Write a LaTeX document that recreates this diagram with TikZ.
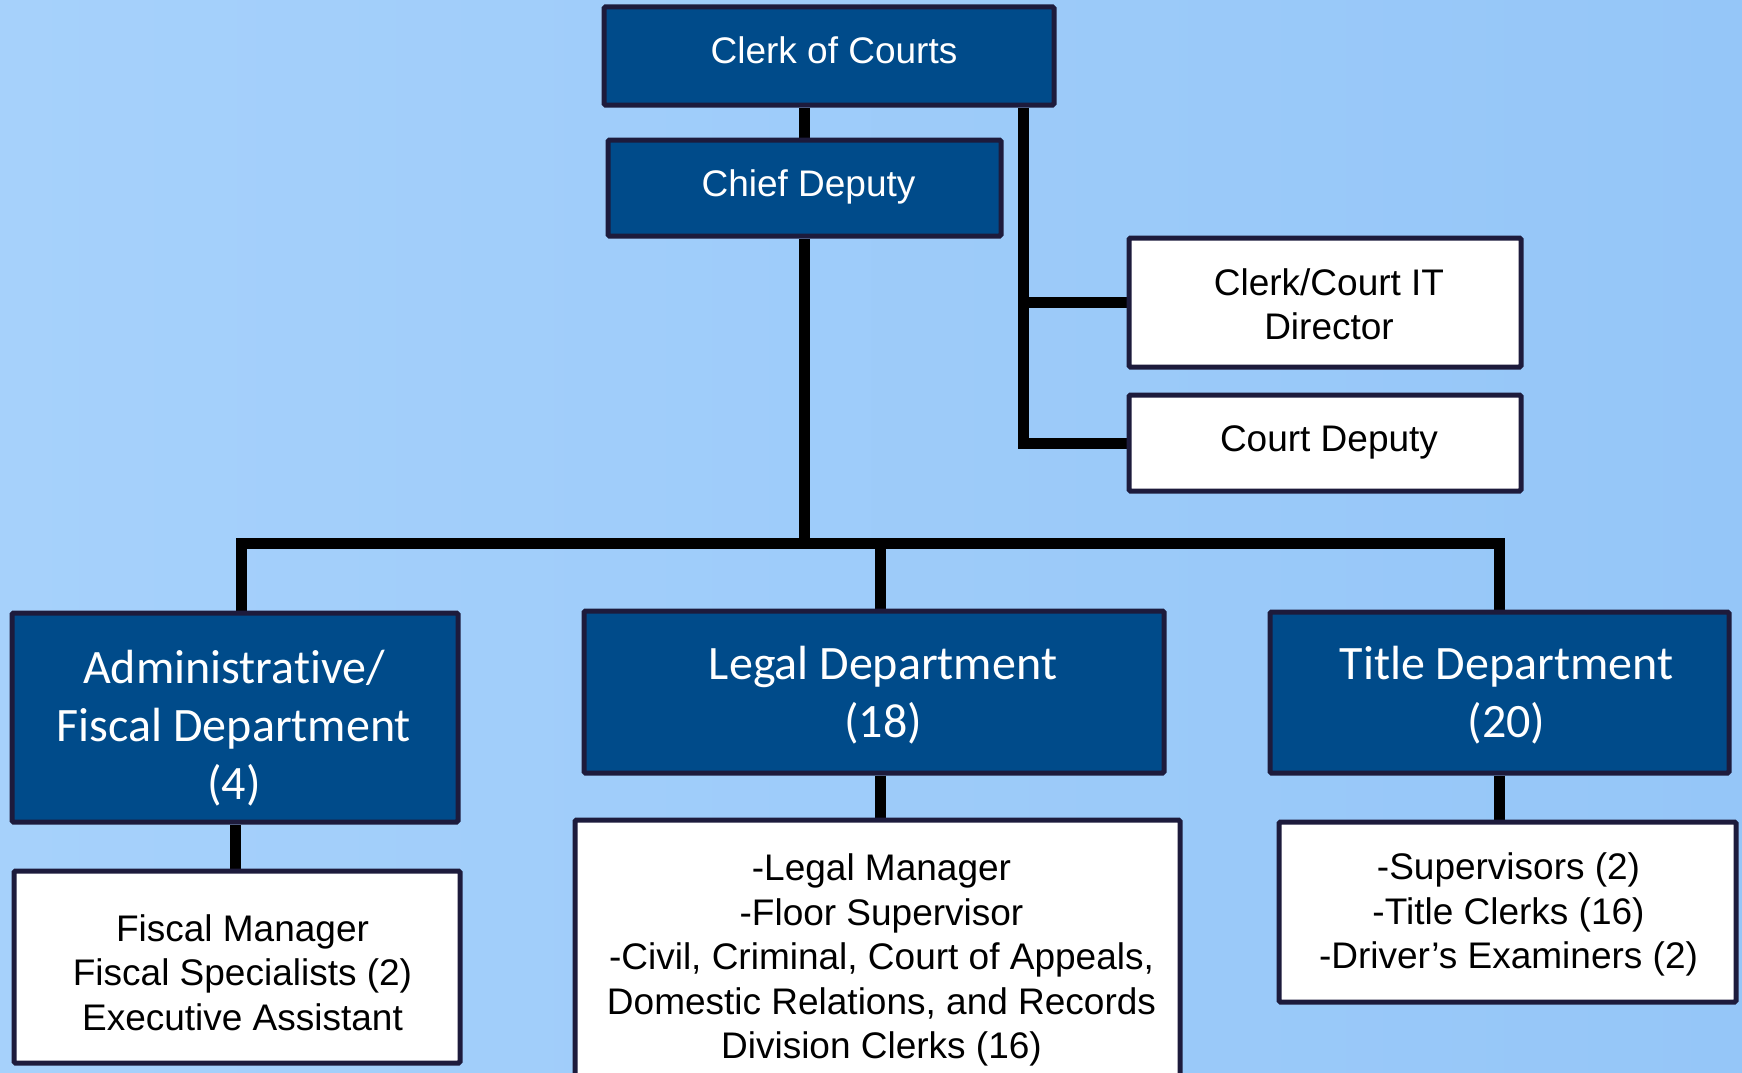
\documentclass[tikz,border=0pt]{standalone}
\usepackage{fontspec}
\newfontfamily\arialf{Liberation Sans}
\newfontfamily\calf[Ligatures=NoCommon]{Carlito}
\pgfdeclarelayer{back}
\pgfdeclarelayer{wires}
\pgfsetlayers{back,wires,main}
\definecolor{bgL}{HTML}{A6D1FB}
\definecolor{bgR}{HTML}{95C6F8}
\definecolor{deptblue}{HTML}{004B8A}
\definecolor{navyline}{HTML}{1D1B3C}
\begin{document}
\begin{tikzpicture}[x=1pt,y=-1pt,
  darkbox/.style={draw=navyline, line width=5pt, fill=deptblue, inner sep=0pt, rounded corners=1.5pt},
  lightbox/.style={draw=navyline, line width=5pt, fill=white, inner sep=0pt, rounded corners=1.5pt},
  toptext/.style={inner sep=0pt, align=center, font=\arialf\fontsize{37}{44.5}\selectfont},
  depttext/.style={inner sep=0pt, align=center, text=white, font=\calf\fontsize{48}{58}\selectfont},
  wire/.style={line width=11pt, draw=black}]
\useasboundingbox (0,0) rectangle (1742,1073);
\clip (0,0) rectangle (1742,1073);
\begin{pgfonlayer}{back}
\fill[left color=bgL, right color=bgR] (0,0) rectangle (1742,1073);
\end{pgfonlayer}

% top level boxes
\node[darkbox, minimum width=450, minimum height=98] (clerk) at (829,56) {};
\node[darkbox, minimum width=393, minimum height=96] (chief) at (804.5,188) {};
\node[lightbox, minimum width=392, minimum height=129] (it) at (1325,302.5) {};
\node[lightbox, minimum width=392, minimum height=96] (cdep) at (1325,443) {};
% departments
\node[darkbox, minimum width=446, minimum height=209] (admin) at (235,717.5) {};
\node[darkbox, minimum width=580, minimum height=162] (legal) at (874,692) {};
\node[darkbox, minimum width=459, minimum height=161] (title) at (1499.5,692.5) {};
% staff boxes
\node[lightbox, minimum width=446, minimum height=192] (fiscal) at (237,967) {};
\node[lightbox, minimum width=605, minimum height=280] (legsub) at (877.5,960) {};
\node[lightbox, minimum width=457, minimum height=180] (titsub) at (1507.5,912) {};

% texts
\node[toptext, text=white] (clerk-t) at ([xshift=5pt,yshift=5.5pt]clerk.center) {Clerk of Courts};
\node[toptext, text=white] (chief-t) at ([xshift=4pt,yshift=1pt]chief.center) {Chief Deputy};
\node[toptext] (it-t) at ([xshift=4pt,yshift=-2pt]it.center) {Clerk/Court IT\\Director};
\node[toptext] (cdep-t) at ([xshift=4pt,yshift=1pt]cdep.center) {Court Deputy};
\node[depttext] (admin-t) at ([xshift=-1pt,yshift=-11pt]admin.center) {Administrative/\\Fiscal Department\\(4)};
\node[depttext] (legal-t) at ([xshift=9pt,yshift=-3pt]legal.center) {Legal Department\\(18)};
\node[depttext] (title-t) at ([xshift=7pt,yshift=-3pt]title.center) {Title Department\\(20)};
\node[toptext] (fiscal-t) at ([xshift=5.5pt,yshift=-5.5pt]fiscal.center) {Fiscal Manager\\Fiscal Specialists (2)\\Executive Assistant};
\node[toptext] (legsub-t) at ([xshift=4pt]legsub.center) {-Legal Manager\\-Floor Supervisor\\-Civil, Criminal, Court of Appeals,\\Domestic Relations, and Records\\Division Clerks (16)};
\node[toptext] (titsub-t) at ([xshift=1pt,yshift=-2.5pt]titsub.center) {-Supervisors (2)\\-Title Clerks (16)\\-Driver’s Examiners (2)};

\begin{pgfonlayer}{wires}
\coordinate (rx) at (1023,0);
\coordinate (bus) at (0,543);
\draw[wire] (chief.north) -- (chief.north |- clerk.south);
\draw[wire] (rx |- clerk.south) -- (rx |- cdep.west) -- (cdep.west);
\draw[wire] (rx |- it.west) -- (it.west);
\draw[wire] (chief.south) -- (chief.south |- bus);
\draw[wire] ([xshift=6pt]admin.north) -- ([xshift=6pt]admin.north |- bus) -- (title.north |- bus) -- (title.north);
\draw[wire] ([xshift=6pt]legal.north) -- ([xshift=6pt]legal.north |- bus);
\draw[wire] (admin.south) -- (admin.south |- fiscal.north);
\draw[wire] ([xshift=6pt]legal.south) -- ([xshift=6pt]legal.south |- legsub.north);
\draw[wire] (title.south) -- (title.south |- titsub.north);
\end{pgfonlayer}
\end{tikzpicture}
\end{document}
